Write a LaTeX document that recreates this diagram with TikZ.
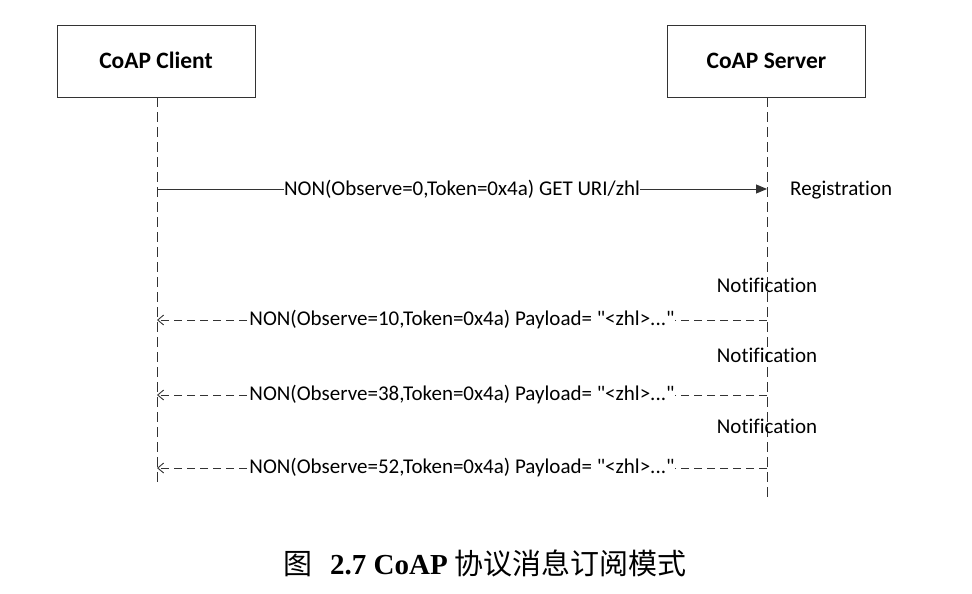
\documentclass[tikz,border=0pt]{standalone}
\usepackage{fontspec}
\setmainfont[Ligatures={NoCommon}]{Carlito}
\newfontfamily\capserif{Liberation Serif}
\newfontfamily\cjk{Noto Sans CJK SC}
\usetikzlibrary{arrows.meta}
\begin{document}
\begin{tikzpicture}[x=1pt,y=-1pt,
  actor/.style={draw=black!80, line width=0.9pt, minimum width=198pt, minimum height=72pt, inner sep=0pt, text height=17pt, text depth=2pt, font=\fontsize{23.5}{28}\selectfont\bfseries},
  life/.style={draw=black!80, line width=0.9pt, dash pattern=on 10pt off 5pt},
  req/.style={draw=black!80, line width=0.9pt, -{Triangle[length=11pt,width=9pt]}},
  resp/.style={draw=black!80, line width=0.9pt, dash pattern=on 8pt off 5pt, -{Straight Barb[length=6pt,width=10pt]}},
  msg/.style={fill=white, inner sep=0.5pt, font=\fontsize{21}{24}\selectfont},
  note/.style={font=\fontsize{21}{24}\selectfont, inner sep=0pt}]
\useasboundingbox (0,0) rectangle (972,594);
\node[actor] (client) at (156,61) {CoAP Client};
\node[actor] (server) at (766.5,61) {CoAP Server};
\coordinate (cend) at (157,487);
\coordinate (send) at (767,500);
\draw[life] (client.south -| cend) -- (cend);
\draw[life] (server.south -| send) -- (send);
% request
\coordinate (c1) at (157,189);
\coordinate (s1) at (767,189);
\draw[req] (c1) -- node[msg] (m1) {NON(Observe=0,Token=0x4a) GET URI/zhl} (s1);
\node[note, anchor=west] (reg) at (790,190) {Registration};
% notifications
\foreach \i/\ny/\ry/\obs in {2/285/320/10, 3/355/395/38, 4/426/468/52}{
  \node[note] (n\i) at (767,\ny) {Notification};
  \coordinate (s\i) at (767,\ry);
  \coordinate (c\i) at (157,\ry);
  \draw[resp] (s\i) -- node[msg] (m\i) {NON(Observe=\obs,Token=0x4a) Payload= \textquotedbl<zhl>...\textquotedbl} (c\i);
}
\node[font=\fontsize{29}{33}\selectfont] (cap) at (485,563) {\cjk 图\hspace{0.6em}{\capserif\bfseries 2.7 CoAP} 协议消息订阅模式};
\end{tikzpicture}
\end{document}
